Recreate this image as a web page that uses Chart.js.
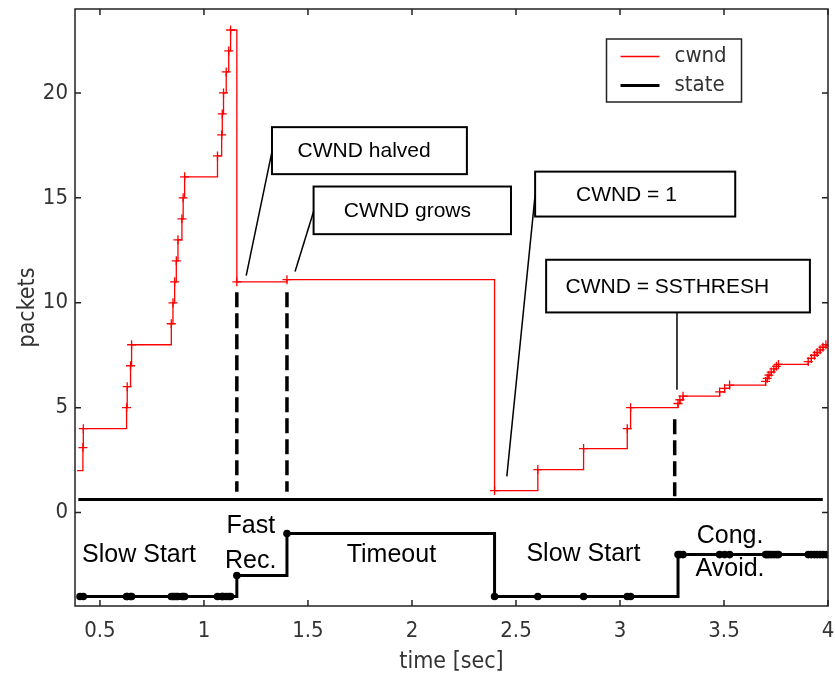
<!DOCTYPE html>
<html>
<head>
<meta charset="utf-8">
<title>TCP cwnd and state</title>
<script src="https://cdn.jsdelivr.net/npm/chart.js@4.4.1/dist/chart.umd.min.js"></script>
<style>
  html, body { margin: 0; padding: 0; background: #fff; }
</style>
</head>
<body>
<canvas id="tcpChart" width="835" height="678"></canvas>
<script>
// cwnd trace (time in sec, packets)
const cwndTime = [0.39, 0.418, 0.42, 0.628, 0.631, 0.647, 0.652, 0.843, 0.851, 0.859, 0.867, 0.875, 0.894, 0.900, 0.907,
    1.065, 1.085, 1.088, 1.094, 1.107, 1.119, 1.128, 1.158, 1.399, 2.397, 2.605, 2.825, 3.035, 3.051,
    3.279, 3.288, 3.303, 3.479, 3.503, 3.527, 3.700, 3.708, 3.716, 3.727, 3.740, 3.752, 3.762,
    3.905, 3.920, 3.935, 3.948, 3.962, 3.976, 3.990];
const cwndValue = [2, 3.1, 4, 5, 6, 7, 8, 9, 10, 11, 12, 13, 14, 15, 16,
    17, 18, 19, 20, 21, 22, 23, 11, 11.1, 1.05, 2.05, 3.05, 4, 5,
    5.2, 5.38, 5.55, 5.75, 5.92, 6.08, 6.25, 6.4, 6.55, 6.7, 6.85, 6.97, 7.06,
    7.2, 7.35, 7.5, 7.63, 7.76, 7.88, 8.0];

// sender state (drawn below zero)
const stateTime = [0.404, 0.42, 0.628, 0.631, 0.647, 0.652, 0.843, 0.851, 0.859, 0.867, 0.875, 0.894, 0.900, 0.907,
    1.065, 1.085, 1.088, 1.094, 1.107, 1.119, 1.128, 1.158, 1.399, 2.397, 2.605, 2.825, 3.035, 3.051,
    3.279, 3.288, 3.303, 3.479, 3.503, 3.527, 3.700, 3.708, 3.716, 3.727, 3.740, 3.752, 3.762,
    3.905, 3.920, 3.935, 3.948, 3.962, 3.976, 3.990];
const stateValue = [-4, -4, -4, -4, -4, -4, -4, -4, -4, -4, -4, -4, -4, -4,
    -4, -4, -4, -4, -4, -4, -4, -3, -1, -4, -4, -4, -4, -4,
    -2, -2, -2, -2, -2, -2, -2, -2, -2, -2, -2, -2, -2,
    -2, -2, -2, -2, -2, -2, -2];

const xTicks = [0.5, 1, 1.5, 2, 2.5, 3, 3.5, 4];
const yTicks = [0, 5, 10, 15, 20];

// separator line between the two traces
const baseTime = [0.396, 3.975];
const baseValue = [0.63, 0.63];

// dashed event markers
const markTime = [1.158, 1.399, 3.263];
const markTop = [10.5, 10.5, 4.45];
const markBottom = [1.0, 1.0, 0.78];

const noteText = ['CWND halved', 'CWND grows', 'CWND = 1', 'CWND = SSTHRESH'];
const stateText = [['Slow Start'], ['Fast', 'Rec.'], ['Timeout'], ['Slow Start'], ['Cong.', 'Avoid.']];
const legendText = ['cwnd', 'state'];

// annotation geometry, in data units
const notes = [
    { box: [1.327, 2.264, 18.37, 16.13], tx: 1.770, from: [1.327, 17.2], to: [1.203, 11.29] },
    { box: [1.527, 2.476, 15.54, 13.27], tx: 1.978, from: [1.527, 14.35], to: [1.438, 11.49] },
    { box: [2.592, 3.554, 16.25, 14.11], tx: 3.031, from: [2.592, 15.14], to: [2.456, 1.73] },
    { box: [2.645, 3.913, 12.05, 9.54], tx: 3.228, from: [3.274, 9.54], to: [3.274, 5.86] }
];
const statePos = [
    { t: 0.688, v: [-2.03] },
    { t: 1.225, v: [-0.62, -2.3] },
    { t: 1.901, v: [-2.03] },
    { t: 2.824, v: [-2.0] },
    { t: 3.529, v: [-1.13, -2.68] }
];

const narrow = "'Liberation Sans Narrow', 'DejaVu Sans Condensed', sans-serif";
const helv = "'Liberation Sans', Arial, sans-serif";

const markData = [];
markTime.forEach((t, i) => {
    markData.push({ x: t, y: markTop[i] }, { x: t, y: markBottom[i] }, { x: t, y: null });
});

// no extra room for edge tick labels
function noPad(s) {
    s.paddingLeft = 0;
    s.paddingRight = 0;
    s.paddingTop = 0;
    s.paddingBottom = 0;
}

const overlay = {
    id: 'overlay',
    afterDatasetsDraw(chart) {
        const { ctx, chartArea: a, scales: { x, y } } = chart;
        ctx.save();

        // callout lines and boxes
        ctx.textAlign = 'center';
        ctx.textBaseline = 'middle';
        notes.forEach((n, i) => {
            ctx.strokeStyle = '#000';
            ctx.lineWidth = 1.5;
            ctx.beginPath();
            ctx.moveTo(x.getPixelForValue(n.from[0]), y.getPixelForValue(n.from[1]));
            ctx.lineTo(x.getPixelForValue(n.to[0]), y.getPixelForValue(n.to[1]));
            ctx.stroke();

            const l = x.getPixelForValue(n.box[0]), r = x.getPixelForValue(n.box[1]);
            const t = y.getPixelForValue(n.box[2]), b = y.getPixelForValue(n.box[3]);
            ctx.fillStyle = '#fff';
            ctx.fillRect(l, t, r - l, b - t);
            ctx.lineWidth = 2;
            ctx.strokeRect(l, t, r - l, b - t);
            ctx.fillStyle = '#000';
            ctx.font = '21px ' + helv;
            ctx.fillText(noteText[i], x.getPixelForValue(n.tx), (t + b) / 2 + 1);
        });

        // state names
        ctx.font = '25px ' + helv;
        ctx.fillStyle = '#000';
        statePos.forEach((p, i) => {
            stateText[i].forEach((s, j) => {
                ctx.fillText(s, x.getPixelForValue(p.t), y.getPixelForValue(p.v[j]));
            });
        });

        // legend
        const lx = a.right - 221.5, ly = a.top + 30;
        ctx.fillStyle = '#fff';
        ctx.fillRect(lx, ly, 135, 63);
        ctx.strokeStyle = '#222';
        ctx.lineWidth = 1.5;
        ctx.strokeRect(lx, ly, 135, 63);
        const ds = chart.data.datasets;
        ctx.textAlign = 'left';
        ctx.font = '22px ' + narrow;
        [0, 1].forEach(k => {
            const yy = ly + 17.5 + k * 29;
            ctx.strokeStyle = ds[k].borderColor;
            ctx.lineWidth = ds[k].borderWidth;
            ctx.beginPath();
            ctx.moveTo(lx + 14, yy);
            ctx.lineTo(lx + 53, yy);
            ctx.stroke();
            ctx.fillStyle = '#333';
            ctx.fillText(legendText[k], lx + 68, yy);
        });

        // axes box with inward ticks
        ctx.strokeStyle = '#222';
        ctx.lineWidth = 1.5;
        ctx.strokeRect(a.left, a.top, a.right - a.left, a.bottom - a.top);
        ctx.beginPath();
        xTicks.forEach(v => {
            const px = x.getPixelForValue(v);
            ctx.moveTo(px, a.bottom); ctx.lineTo(px, a.bottom - 6);
            ctx.moveTo(px, a.top); ctx.lineTo(px, a.top + 6);
        });
        yTicks.forEach(v => {
            const py = y.getPixelForValue(v);
            ctx.moveTo(a.left, py); ctx.lineTo(a.left + 6, py);
            ctx.moveTo(a.right, py); ctx.lineTo(a.right - 6, py);
        });
        ctx.stroke();
        ctx.restore();
    }
};

new Chart(document.getElementById('tcpChart').getContext('2d'), {
    type: 'line',
    data: {
        datasets: [
            {
                label: 'cwnd',
                data: cwndTime.map((t, i) => ({ x: t, y: cwndValue[i] })),
                stepped: true,
                borderColor: '#ff0000',
                borderWidth: 1.3,
                pointStyle: 'cross',
                pointRadius: c => (c.dataIndex === 0 ? 0 : 4.5),
                pointBorderWidth: 1.3,
                pointBorderColor: '#ff0000',
                order: 0
            },
            {
                label: 'state',
                data: stateTime.map((t, i) => ({ x: t, y: stateValue[i] })),
                stepped: true,
                borderColor: '#000',
                borderWidth: 3,
                pointStyle: 'circle',
                pointRadius: 2.3,
                pointBackgroundColor: '#000',
                pointBorderColor: '#000',
                order: 1
            },
            {
                label: 'base',
                data: baseTime.map((t, i) => ({ x: t, y: baseValue[i] })),
                borderColor: '#000',
                borderWidth: 3,
                pointRadius: 0,
                order: 2
            },
            {
                label: 'marks',
                data: markData,
                borderColor: '#000',
                borderWidth: 3.5,
                borderDash: [15, 6],
                pointRadius: 0,
                spanGaps: false,
                order: 3
            }
        ]
    },
    options: {
        responsive: false,
        animation: false,
        layout: { padding: { left: 0, right: 4, top: 9, bottom: 0 } },
        plugins: {
            legend: { display: false },
            tooltip: { enabled: false }
        },
        scales: {
            x: {
                type: 'linear',
                min: 0.38,
                max: 4.0,
                afterBuildTicks: s => { s.ticks = xTicks.map(v => ({ value: v })); },
                afterFit: s => { s.height = 72; noPad(s); },
                grid: { display: false, drawTicks: false },
                border: { display: false },
                ticks: {
                    padding: 12,
                    color: '#333',
                    font: { size: 22, family: narrow },
                    callback: v => String(v)
                },
                title: {
                    display: true,
                    text: 'time [sec]',
                    color: '#333',
                    font: { size: 23, family: narrow },
                    padding: { top: 0, bottom: 2 }
                }
            },
            y: {
                type: 'linear',
                min: -4.45,
                max: 24,
                afterBuildTicks: s => { s.ticks = yTicks.map(v => ({ value: v })); },
                afterFit: s => { s.width = 75; noPad(s); },
                grid: { display: false, drawTicks: false },
                border: { display: false },
                ticks: {
                    padding: 7,
                    color: '#333',
                    font: { size: 22, family: narrow },
                    callback: v => String(v)
                },
                title: {
                    display: true,
                    text: 'packets',
                    color: '#333',
                    font: { size: 23, family: narrow },
                    padding: { top: 14, bottom: 0 }
                }
            }
        }
    },
    plugins: [overlay]
});
</script>
</body>
</html>
